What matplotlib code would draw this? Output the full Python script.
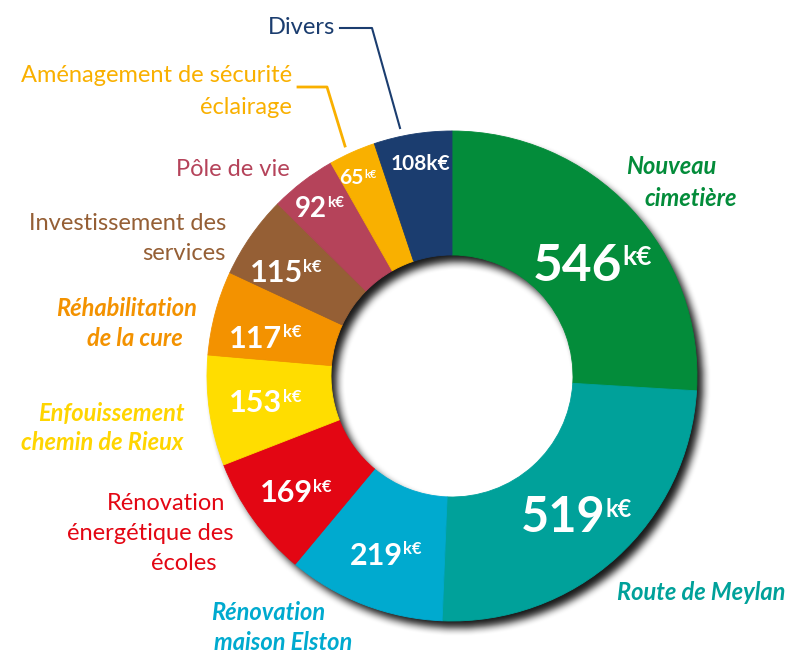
import numpy as np
import matplotlib.pyplot as plt

W, H = 795, 653

categories = [
    "Nouveau\ncimetière",
    "Route de Meylan",
    "Rénovation\nmaison Elston",
    "Rénovation\nénergétique des\nécoles",
    "Enfouissement\nchemin de Rieux",
    "Réhabilitation\nde la cure",
    "Investissement des\nservices",
    "Pôle de vie",
    "Aménagement de sécurité\néclairage",
    "Divers",
]
values = [546, 519, 219, 169, 153, 117, 115, 92, 65, 108]
colors = ["#038C3A", "#00A19A", "#00AACF", "#E30613", "#FFDD00",
          "#F39200", "#955F35", "#B5435A", "#F9B000", "#1B3D6F"]
label_colors = ["#038C3A", "#00A19A", "#00AACF", "#E30613", "#FFD500",
                "#F39200", "#955F35", "#B5435A", "#F9B000", "#1B3D6F"]
emphasis = [True, True, True, False, True, True, False, False, False, False]

plt.rcParams['font.family'] = ['Lato', 'DejaVu Sans']

fig = plt.figure(figsize=(W / 100, H / 100), dpi=100)
ax = fig.add_axes([0, 0, 1, 1])

cx, cy = 452, 376          # centre in pixels (from top)
r_out, ring = 245, 124

# soft drop shadow under the ring
yy, xx = np.mgrid[0:H, 0:W] + 0.5
d = np.hypot(xx - (cx + 6), yy - (cy + 7))
mask = ((d <= r_out) & (d >= r_out - ring)).astype(float)
kern = np.ones(9) / 9
for _ in range(2):
    mask = np.apply_along_axis(lambda r: np.convolve(r, kern, mode='same'), 1, mask)
    mask = np.apply_along_axis(lambda c: np.convolve(c, kern, mode='same'), 0, mask)
shadow = np.zeros((H, W, 4))
shadow[..., 3] = mask * 0.9
ax.imshow(shadow, extent=(0, W, 0, H), origin='upper', zorder=0, interpolation='bilinear')

wedges, _ = ax.pie(values, colors=colors, startangle=90, counterclock=False,
                   radius=r_out, center=(cx, H - cy),
                   wedgeprops=dict(width=ring, linewidth=0.6, zorder=2))
for w in wedges:
    w.set_edgecolor(w.get_facecolor())

# value labels: junction x, baseline y, digit size, "k€" size, raise
value_pos = [
    (622, 281, 37, 19, 16),
    (605, 532, 35, 17, 15),
    (403, 565, 22, 12, 11),
    (313, 502, 22, 12, 10),
    (282, 412, 22, 12, 10),
    (282, 348, 22, 12, 11),
    (303, 282, 22, 12, 10),
    (327, 217, 20, 11, 10),
    (364, 184, 15, 8, 6),
    (420, 170, 15, None, 0),
]
for v, (jx, by, fs, sfs, rise) in zip(values, value_pos):
    if sfs:
        ax.text(jx, H - by, str(v), ha='right', va='baseline', fontsize=fs,
                weight='bold', color='white', zorder=3)
        ax.text(jx + 0.5, H - by + rise, 'k€', ha='left', va='baseline', fontsize=sfs,
                weight='bold', color='white', zorder=3)
    else:
        ax.text(jx, H - by, f'{v}k€', ha='center', va='baseline', fontsize=fs,
                weight='bold', color='white', zorder=3)

# category labels: alignment, x of each line, y of first line, line step
label_pos = [
    ('center', [671, 691], 167, 31),
    ('center', [701], 593, 30),
    ('center', [268, 283], 613, 30),
    ('center', [166, 150, 184], 503, 30),
    ('right', [185, 183], 413, 29),
    ('right', [197, 183], 308, 30),
    ('right', [226, 226], 223, 30),
    ('right', [290], 169, 30),
    ('right', [292, 292], 75, 32),
    ('right', [335], 27, 30),
]
for lab, col, emph, (ha, xs, y0, dy) in zip(categories, label_colors, emphasis, label_pos):
    for i, (line, x) in enumerate(zip(lab.split('\n'), xs)):
        ax.text(x, H - (y0 + i * dy), line, ha=ha, va='center', fontsize=17, color=col,
                weight='bold' if emph else 'normal', style='italic' if emph else 'normal')

# leader lines
ax.plot([340, 372, 400], [H - 28, H - 28, H - 128], color="#1B3D6F", lw=1.5, zorder=3)
ax.plot([298, 327, 345], [H - 87, H - 87, H - 146], color="#F9B000", lw=2, zorder=3)

ax.set_xlim(0, W)
ax.set_ylim(0, H)
ax.axis('off')

fig.savefig('out.png', dpi=100)
